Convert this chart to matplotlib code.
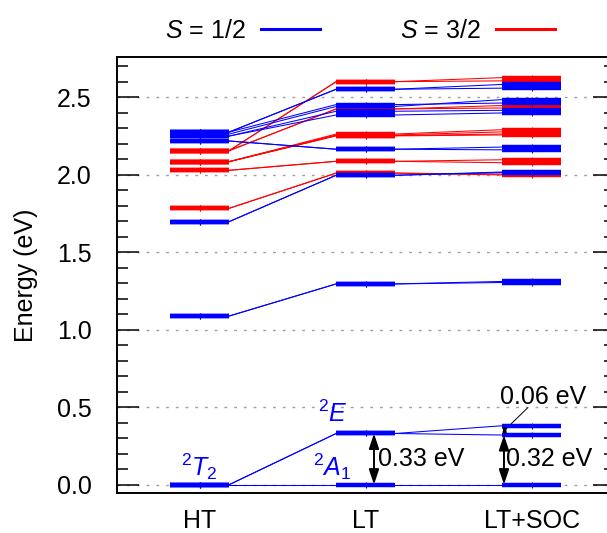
import matplotlib
matplotlib.use('Agg')
import matplotlib.pyplot as plt
from matplotlib.lines import Line2D
from matplotlib.ticker import MultipleLocator, FormatStrFormatter
import numpy as np

plt.rcParams['font.family'] = ['Liberation Sans', 'DejaVu Sans']
plt.rcParams['mathtext.fontset'] = 'custom'
plt.rcParams['mathtext.rm'] = 'Liberation Sans'
plt.rcParams['mathtext.it'] = 'Liberation Sans:italic'
plt.rcParams['font.size'] = 18

columns = ['HT', 'LT', 'LT+SOC']

# S = 1/2 states: energy (eV) of each state in the HT, LT and LT+SOC columns
doublet_ht = [0.000, 0.000, 0.000, 1.088, 1.088, 1.697, 1.697, 2.217, 2.217,
              2.275, 2.275, 2.275, 2.262, 2.249, 2.249]
doublet_lt = [0.000, 0.330, 0.330, 1.295, 1.295, 1.996, 1.996, 2.164, 2.164,
              2.551, 2.551, 2.452, 2.440, 2.409, 2.385]
doublet_soc = [0.000, 0.320, 0.380, 1.304, 1.311, 2.013, 2.017, 2.160, 2.178,
               2.558, 2.582, 2.462, 2.484, 2.415, 2.398]

# S = 3/2 states
quartet_ht = [1.783, 1.783, 2.028, 2.028, 2.084, 2.084, 2.084, 2.084,
              2.155, 2.155, 2.155, 2.155]
quartet_lt = [2.010, 2.010, 2.086, 2.086, 2.262, 2.256, 2.252, 2.250,
              2.424, 2.424, 2.600, 2.600]
quartet_soc = [1.998, 2.003, 2.077, 2.096, 2.290, 2.276, 2.262, 2.256,
               2.430, 2.446, 2.605, 2.626]

half = 0.178  # half width of a level bar


def draw_levels(ax, ht, lt, soc, colour):
    levels = np.array([ht, lt, soc])
    for i in range(3):
        x = i + 1
        ax.hlines(levels[i], x - half, x + half, color=colour, lw=3.2, zorder=3)
        ax.plot(np.full(len(levels[i]), x), levels[i], '|', ms=4, mew=0.8,
                color=colour, zorder=4)
    # connect each state to the next column
    for i in range(2):
        for a, b in zip(levels[i], levels[i + 1]):
            ax.plot([i + 1 + half, i + 2 - half], [a, b], color=colour,
                    lw=0.75, zorder=2)


fig = plt.figure(figsize=(6.07, 5.33), dpi=100)
ax = fig.add_axes([116.7 / 607, 40.3 / 533, 498 / 607, 435.7 / 533])

draw_levels(ax, quartet_ht, quartet_lt, quartet_soc, 'red')
draw_levels(ax, doublet_ht, doublet_lt, doublet_soc, 'blue')

ax.set_xlim(0.5, 3.5)
ax.set_ylim(-0.052, 2.759)
ax.set_xticks([1, 2, 3], columns)
ax.tick_params(axis='x', length=0, pad=12)
ax.yaxis.set_major_locator(MultipleLocator(0.5))
ax.yaxis.set_minor_locator(MultipleLocator(0.1))
ax.yaxis.set_major_formatter(FormatStrFormatter('%.1f'))
ax.tick_params(axis='y', which='both', direction='in', right=True, width=1.1)
ax.tick_params(axis='y', which='major', length=15.5, pad=18)
ax.tick_params(axis='y', which='minor', length=7.7)
for s in ax.spines.values():
    s.set_linewidth(1.4)
ax.grid(axis='y', which='major', color='#a0a0a0', ls=(0, (2, 5)), lw=1)
ax.set_axisbelow(True)
ax.set_ylabel('Energy (eV)')
ax.yaxis.set_label_coords(-0.158, 0.5)

# state labels
ax.text(1.0, 0.02, r'$^2T_2$', color='blue', ha='center', va='bottom', fontsize=18)
ax.text(1.80, 0.37, r'$^2E$', color='blue', ha='center', va='bottom', fontsize=18)
ax.text(1.80, 0.02, r'$^2A_1$', color='blue', ha='center', va='bottom', fontsize=18)

# splitting arrows
gap_lt = doublet_lt[1] - doublet_lt[0]
gap_soc = doublet_soc[1] - doublet_soc[0]
gap_e = doublet_soc[2] - doublet_soc[1]
arr = dict(arrowstyle='<|-|>,head_length=0.45,head_width=0.15', color='black',
           lw=1.4, shrinkA=0, shrinkB=0, mutation_scale=20)
ax.annotate('', xy=(2.05, doublet_lt[0]), xytext=(2.05, doublet_lt[1]), arrowprops=arr)
ax.text(2.072, 0.166, f'{gap_lt:.2f} eV', ha='left', va='center')
ax.annotate('', xy=(2.833, doublet_soc[0]), xytext=(2.833, doublet_soc[1]), arrowprops=arr)
ax.text(2.847, 0.166, f'{gap_soc:.2f} eV', ha='left', va='center')
arr_small = dict(arr, mutation_scale=7, lw=1.0)
ax.annotate('', xy=(2.837, doublet_soc[1]), xytext=(2.837, doublet_soc[2]),
            arrowprops=arr_small)
ax.plot([2.845, 2.975], [0.36, 0.495], color='black', lw=0.7)
ax.text(3.066, 0.563, f'{gap_e:.2f} eV', ha='center', va='center')

handles = [Line2D([], [], color='blue', lw=2.2), Line2D([], [], color='red', lw=2.2)]
fig.legend(handles, ['$S$ = 1/2', '$S$ = 3/2'], loc='center',
           bbox_to_anchor=(0.593, 0.942), ncol=2, frameon=False, markerfirst=False,
           handlelength=2.36, handletextpad=0.6, columnspacing=3.2)

fig.savefig('out.png', dpi=100)
